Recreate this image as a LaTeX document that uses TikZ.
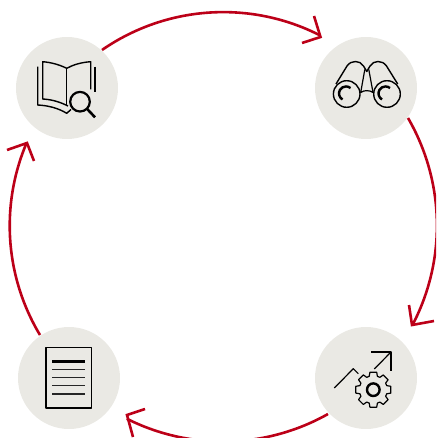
\documentclass[tikz,border=0pt]{standalone}
\definecolor{cyclered}{HTML}{BC0018}
\definecolor{discgrey}{HTML}{EAE9E4}
\tikzset{
  disc/.style={circle,fill=discgrey,minimum size=102pt,inner sep=0pt,outer sep=0pt},
  cycle/.style={draw=cyclered,line width=2.6pt},
  barb/.style={draw=cyclered,line width=2.6pt,miter limit=10},
  icon/.style={draw=black,line width=1.4pt,line join=round},
  iconthin/.style={draw=black,line width=1.2pt,line join=round},
}
\begin{document}
\begin{tikzpicture}[x=1pt,y=-1pt]
\useasboundingbox (0,0) rectangle (436,438);
\clip (0,0) rectangle (436,438);
\node[disc] (book) at (67,88) {};
\node[disc] (bino) at (366,88) {};
\node[disc] (doc) at (69,378) {};
\node[disc] (grow) at (366,378) {};
% connectors
\coordinate (t1) at (320.5,37);
\coordinate (t2) at (412,325);
\coordinate (t3) at (127,415);
\coordinate (t4) at (27,143);
\coordinate (b1a) at (314,16);
\coordinate (b1b) at (302,43);
\coordinate (b2a) at (409,305);
\coordinate (b2b) at (434,321);
\coordinate (b3a) at (145,409);
\coordinate (b3b) at (133,437);
\coordinate (b4a) at (7,150);
\coordinate (b4b) at (34,161);
\draw[cycle] (102,50) arc[start angle=-124.7,end angle=-63,radius=213];
\draw[cycle] (408,118) arc[start angle=-30.1,end angle=27.6,radius=214.5];
\draw[cycle] (328,414) arc[start angle=60.6,end angle=116.7,radius=214];
\draw[cycle] (40,335) arc[start angle=149,end angle=203,radius=212];
\draw[barb] (b1a) -- (t1) -- (b1b);
\draw[barb] (b2a) -- (t2) -- (b2b);
\draw[barb] (b3a) -- (t3) -- (b3b);
\draw[barb] (b4a) -- (t4) -- (b4b);
% book icon
\draw[icon] (90.7,89.3) -- (90.7,61.7) .. controls (80,62.5) and (73,65) .. (66.7,68.3)
  .. controls (60,65) and (52,62.5) .. (42.7,61.7) -- (42.7,99)
  .. controls (52,99.5) and (60,102) .. (68,106);
\draw[icon] (66.7,68.3) -- (66.7,106);
\draw[icon] (37.7,66.7) -- (37.7,105) .. controls (48,105.5) and (58,108) .. (66.7,113.3) -- (71,109.5);
\draw[icon] (95,66.7) -- (95,92);
\draw[draw=black,line width=2.2pt] (80,101.7) circle[radius=9.8];
\draw[draw=black,line width=2.6pt] (87,108.8) -- (95,117.3);
% binoculars icon
\draw[icon] (346.7,94) circle[radius=13.3];
\draw[icon] (387,94) circle[radius=13.3];
\draw[icon] (336,84) -- (347,66) .. controls (351,60) and (360,60) .. (363.5,66)
  -- (366.8,71.5) -- (370,66)
  .. controls (373.5,60) and (382.5,60) .. (386.5,66) -- (397.7,84);
\draw[iconthin] (364.8,69.5) -- (360.7,92.5) .. controls (364,90) and (369.6,90) .. (373,92.5) -- (368.8,69.5);
\draw[draw=black,line width=2.4pt] (342.5,99.5) arc[start angle=120,end angle=310,radius=7];
\draw[draw=black,line width=2.4pt] (382,99.5) arc[start angle=120,end angle=310,radius=7];
% document icon
\draw[icon] (46,347.5) rectangle (91.7,408);
\draw[draw=black,line width=3pt] (52.3,361.3) -- (85,361.3);
\foreach \yy in {369.7,377.7,385.7,394}
  \draw[draw=black!85,line width=1.2pt] (52.3,\yy) -- (85,\yy);
% growth icon
\draw[iconthin] (334.3,388) -- (353.3,368.7) -- (358.3,373.7);
\draw[iconthin] (374.3,369) -- (391,352);
\draw[iconthin] (371,352) -- (391,352) -- (391,371.3);
\begin{scope}[shift={(373.3,389.7)}]
\draw[iconthin] (-17:14)
  \foreach \a in {0,45,...,315}{
    -- (\a-11:17.8) -- (\a+11:17.8) -- (\a+17:14) -- (\a+28:14)
  } -- cycle;
\draw[draw=black,line width=2.4pt] (0,0) circle[radius=6.3];
\end{scope}
\end{tikzpicture}
\end{document}
